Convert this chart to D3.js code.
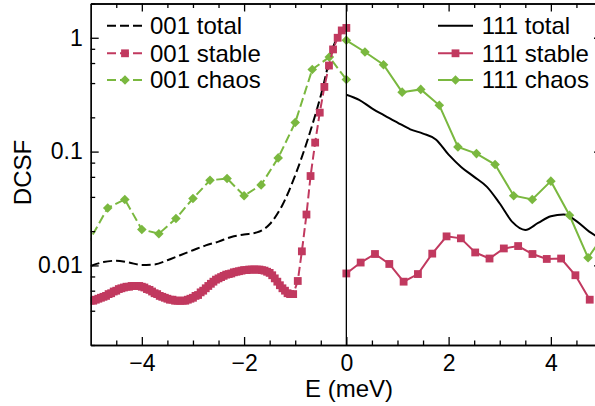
<!DOCTYPE html>
<html>
<head>
<meta charset="utf-8">
<script src="https://cdn.jsdelivr.net/npm/d3@7"></script>
<style>
  body { margin: 0; background: #fff; }
  text { font-family: "Liberation Sans", Arial, sans-serif; }
</style>
</head>
<body>
<div id="chart"></div>
<script>
// ---- data ----
var stable001E = [-5.00, -4.95, -4.90, -4.85, -4.80, -4.75, -4.70, -4.65, -4.60, -4.55, -4.50, -4.45,
  -4.40, -4.35, -4.30, -4.25, -4.20, -4.15, -4.10, -4.05, -4.00, -3.95, -3.90, -3.85, -3.80, -3.75,
  -3.70, -3.65, -3.60, -3.55, -3.50, -3.45, -3.40, -3.35, -3.30, -3.25, -3.20, -3.15, -3.10, -3.05,
  -3.00, -2.95, -2.90, -2.85, -2.80, -2.75, -2.70, -2.65, -2.60, -2.55, -2.50, -2.45, -2.40, -2.35,
  -2.30, -2.25, -2.20, -2.15, -2.10, -2.05, -2.00, -1.95, -1.90, -1.85, -1.80, -1.75, -1.70, -1.65,
  -1.60, -1.55, -1.50, -1.45, -1.40, -1.35, -1.30, -1.25, -1.20, -1.15, -1.10, -1.04, -0.95, -0.87,
  -0.78, -0.70, -0.61, -0.52, -0.43, -0.34, -0.26, -0.17, -0.09, 0.0];
var stable001V = [0.0049, 0.0049, 0.0050, 0.0051, 0.0052, 0.0053, 0.0054, 0.0056, 0.0057, 0.0059, 0.0060,
  0.0062, 0.0063, 0.0064, 0.0065, 0.0065, 0.0066, 0.0066, 0.0066, 0.0066, 0.0065, 0.0064, 0.0062,
  0.0061, 0.0059, 0.0057, 0.0056, 0.0054, 0.0053, 0.0052, 0.0051, 0.0050, 0.0050, 0.0049, 0.0049,
  0.0049, 0.0049, 0.0049, 0.0050, 0.0051, 0.0052, 0.0054, 0.0055, 0.0058, 0.0060, 0.0063, 0.0066,
  0.0069, 0.0072, 0.0075, 0.0077, 0.0079, 0.0081, 0.0083, 0.0084, 0.0085, 0.0087, 0.0088, 0.0089,
  0.0090, 0.0091, 0.0091, 0.0092, 0.0092, 0.0092, 0.0092, 0.0092, 0.0091, 0.0090, 0.0088, 0.0086,
  0.0082, 0.0077, 0.0072, 0.0067, 0.0063, 0.0060, 0.0057, 0.0056, 0.0056, 0.0073, 0.0133, 0.028,
  0.061, 0.12, 0.22, 0.37, 0.57, 0.79, 1.0, 1.16, 1.22];

var total001E = [-5.0, -4.75, -4.5, -4.25, -4.0, -3.75, -3.5, -3.25, -3.0, -2.75, -2.5, -2.25, -2.0,
  -1.75, -1.5, -1.25, -1.0, -0.75, -0.5, -0.25, 0.0];
var total001V = [0.0099, 0.0107, 0.0110, 0.0106, 0.0101, 0.0102, 0.0111, 0.0123, 0.0136, 0.0150, 0.0162,
  0.0178, 0.0187, 0.0195, 0.0230, 0.034, 0.062, 0.130, 0.31, 0.85, 1.2];

var chaos001E = [-5.333, -4.667, -4.333, -4.0, -3.667, -3.333, -3.0, -2.667, -2.333, -2.0, -1.667,
  -1.333, -1.0, -0.667, -0.333, 0.0];
var chaos001V = [0.0094, 0.032, 0.038, 0.0207, 0.019, 0.0258, 0.0387, 0.056, 0.058, 0.041, 0.051,
  0.088, 0.18, 0.527, 0.676, 0.43];

var total111E = [0.0, 0.25, 0.5, 0.75, 1.0, 1.25, 1.5, 1.75, 2.0, 2.25, 2.5, 2.75, 3.0, 3.25, 3.5,
  3.75, 4.0, 4.25, 4.5, 4.75, 5.0];
var total111V = [0.316, 0.285, 0.24, 0.207, 0.18, 0.157, 0.144, 0.128, 0.094, 0.073, 0.060, 0.049,
  0.035, 0.024, 0.0205, 0.0236, 0.027, 0.028, 0.0245, 0.0198, 0.017];

var stable111E = [0.0, 0.28, 0.56, 0.84, 1.12, 1.40, 1.68, 1.96, 2.24, 2.52, 2.80, 3.08, 3.36, 3.64,
  3.92, 4.20, 4.48, 4.76];
var stable111V = [0.0085, 0.0106, 0.0126, 0.0103, 0.0072, 0.0084, 0.0127, 0.018, 0.0173, 0.013, 0.0115,
  0.0141, 0.0148, 0.0126, 0.0114, 0.0115, 0.0082, 0.0050];

var chaos111E = [0.0, 0.364, 0.727, 1.091, 1.455, 1.818, 2.182, 2.545, 2.909, 3.273, 3.636, 4.0,
  4.364, 4.727, 5.091];
var chaos111V = [0.95, 0.75, 0.58, 0.333, 0.352, 0.255, 0.11, 0.096, 0.077, 0.041, 0.038, 0.055,
  0.0276, 0.0117, 0.020];

var yMajor = [0.01, 0.1, 1];
var yMinor = [0.002, 0.004, 0.006, 0.008, 0.02, 0.04, 0.06, 0.08, 0.2, 0.4, 0.6, 0.8, 2];
var xMajor = [-4, -2, 0, 2, 4];
var xMinor = [-4.5, -3.5, -3, -2.5, -1.5, -1, -0.5, 0.5, 1, 1.5, 2.5, 3, 3.5, 4.5];

var legendLeft = ["001 total", "001 stable", "001 chaos"];
var legendRight = ["111 total", "111 stable", "111 chaos"];

// ---- layout ----
var svgWidth = 595;
var svgHeight = 406;
var plotL = 90.7, plotR = 602, plotT = 3.5, plotB = 345;

var red = "#c1395f";
var green = "#7ab83f";
var sq = 7.8;

var svg = d3.select("#chart").append("svg")
  .attr("width", svgWidth)
  .attr("height", svgHeight);

var x = d3.scaleLinear().domain([-5, 5]).range([plotL, plotR]);
var y = d3.scaleLog().domain([0.002, 2]).range([plotB, plotT]);

function zip(es, vs) {
  return es.map(function(e, i) { return { e: e, v: vs[i] }; });
}

svg.append("clipPath").attr("id", "clip")
  .append("rect")
  .attr("x", plotL).attr("y", plotT)
  .attr("width", plotR - plotL).attr("height", plotB - plotT);

var plot = svg.append("g").attr("clip-path", "url(#clip)");

var smooth = d3.line().x(d => x(d.e)).y(d => y(d.v)).curve(d3.curveMonotoneX);
var straight = d3.line().x(d => x(d.e)).y(d => y(d.v));

// vertical separator at E = 0
svg.append("line")
  .attr("x1", x(0)).attr("x2", x(0))
  .attr("y1", plotT).attr("y2", plotB)
  .attr("stroke", "#000").attr("stroke-width", 1.3);

// totals
plot.append("path").datum(zip(total001E, total001V))
  .attr("d", smooth).attr("fill", "none")
  .attr("stroke", "#000").attr("stroke-width", 2).attr("stroke-dasharray", "9,4");
plot.append("path").datum(zip(total111E, total111V))
  .attr("d", smooth).attr("fill", "none")
  .attr("stroke", "#000").attr("stroke-width", 2);

function diamonds(data, color) {
  plot.selectAll(null).data(data).enter().append("path")
    .attr("d", d3.symbol().type(d3.symbolSquare).size(46))
    .attr("transform", d => `translate(${x(d.e)},${y(d.v)}) rotate(45)`)
    .attr("fill", color);
}
function squares(data, color) {
  plot.selectAll(null).data(data).enter().append("rect")
    .attr("x", d => x(d.e) - sq / 2).attr("y", d => y(d.v) - sq / 2)
    .attr("width", sq).attr("height", sq)
    .attr("fill", color);
}

var c001 = zip(chaos001E, chaos001V);
plot.append("path").datum(c001).attr("d", straight).attr("fill", "none")
  .attr("stroke", green).attr("stroke-width", 2).attr("stroke-dasharray", "9,4");
diamonds(c001, green);

var c111 = zip(chaos111E, chaos111V);
plot.append("path").datum(c111).attr("d", straight).attr("fill", "none")
  .attr("stroke", green).attr("stroke-width", 2);
diamonds(c111, green);

var s001 = zip(stable001E, stable001V);
plot.append("path").datum(s001).attr("d", straight).attr("fill", "none")
  .attr("stroke", red).attr("stroke-width", 2).attr("stroke-dasharray", "9,4");
squares(s001, red);

var s111 = zip(stable111E, stable111V);
plot.append("path").datum(s111).attr("d", straight).attr("fill", "none")
  .attr("stroke", red).attr("stroke-width", 2);
squares(s111, red);

// ---- axes (ticks inward, mirrored) ----
function styleAxis(g) {
  g.selectAll("path.domain").attr("stroke-width", 1.3);
  g.selectAll(".tick line").attr("stroke-width", 1.3);
  g.selectAll("text").style("font-family", "Liberation Sans, Arial, sans-serif")
    .style("font-size", "23px").attr("fill", "#000");
}

svg.append("g").attr("transform", `translate(0,${plotB})`)
  .call(d3.axisBottom(x).tickValues(xMajor).tickSize(-8).tickPadding(10).tickSizeOuter(0))
  .call(styleAxis);
svg.append("g").attr("transform", `translate(0,${plotB})`)
  .call(d3.axisBottom(x).tickValues(xMinor).tickSize(-4.5).tickFormat("").tickSizeOuter(0))
  .call(styleAxis);
svg.append("g").attr("transform", `translate(0,${plotT})`)
  .call(d3.axisTop(x).tickValues(xMajor).tickSize(-8).tickFormat("").tickSizeOuter(0))
  .call(styleAxis);
svg.append("g").attr("transform", `translate(0,${plotT})`)
  .call(d3.axisTop(x).tickValues(xMinor).tickSize(-4.5).tickFormat("").tickSizeOuter(0))
  .call(styleAxis);

svg.append("g").attr("transform", `translate(${plotL},0)`)
  .call(d3.axisLeft(y).tickValues(yMajor).tickSize(-8).tickPadding(8)
    .tickFormat(d3.format("~g")).tickSizeOuter(0))
  .call(styleAxis);
svg.append("g").attr("transform", `translate(${plotL},0)`)
  .call(d3.axisLeft(y).tickValues(yMinor).tickSize(-4.5).tickFormat("").tickSizeOuter(0))
  .call(styleAxis);
svg.append("g").attr("transform", `translate(${plotR},0)`)
  .call(d3.axisRight(y).tickValues(yMajor).tickSize(-8).tickFormat("").tickSizeOuter(0))
  .call(styleAxis);
svg.append("g").attr("transform", `translate(${plotR},0)`)
  .call(d3.axisRight(y).tickValues(yMinor).tickSize(-4.5).tickFormat("").tickSizeOuter(0))
  .call(styleAxis);

// axis titles
svg.append("text")
  .attr("x", 349).attr("y", 397)
  .attr("text-anchor", "middle")
  .style("font-size", "24px")
  .text("E (meV)");
svg.append("text")
  .attr("transform", "translate(31,172.5) rotate(-90)")
  .attr("text-anchor", "middle")
  .style("font-size", "24px")
  .text("DCSF");

// ---- legends ----
var rowsY = [25.7, 53.3, 80];
function legend(names, x0, x1, tx, dashed) {
  var styles = [
    { color: "#000", mark: null },
    { color: red, mark: "square" },
    { color: green, mark: "diamond" }
  ];
  names.forEach(function(name, i) {
    var ly = rowsY[i];
    var s = styles[i];
    svg.append("line")
      .attr("x1", x0).attr("x2", x1).attr("y1", ly).attr("y2", ly)
      .attr("stroke", s.color).attr("stroke-width", 2)
      .attr("stroke-dasharray", dashed ? "9,4" : null);
    var mx = (x0 + x1) / 2;
    if (s.mark === "square") {
      svg.append("rect").attr("x", mx - sq / 2).attr("y", ly - sq / 2)
        .attr("width", sq).attr("height", sq).attr("fill", s.color);
    } else if (s.mark === "diamond") {
      svg.append("path").attr("d", d3.symbol().type(d3.symbolSquare).size(46))
        .attr("transform", `translate(${mx},${ly}) rotate(45)`).attr("fill", s.color);
    }
    svg.append("text")
      .attr("x", tx).attr("y", ly + 8.4)
      .style("font-size", "24px")
      .text(name);
  });
}
legend(legendLeft, 107, 143, 150, true);
legend(legendRight, 438, 473, 481.7, false);
</script>
</body>
</html>
